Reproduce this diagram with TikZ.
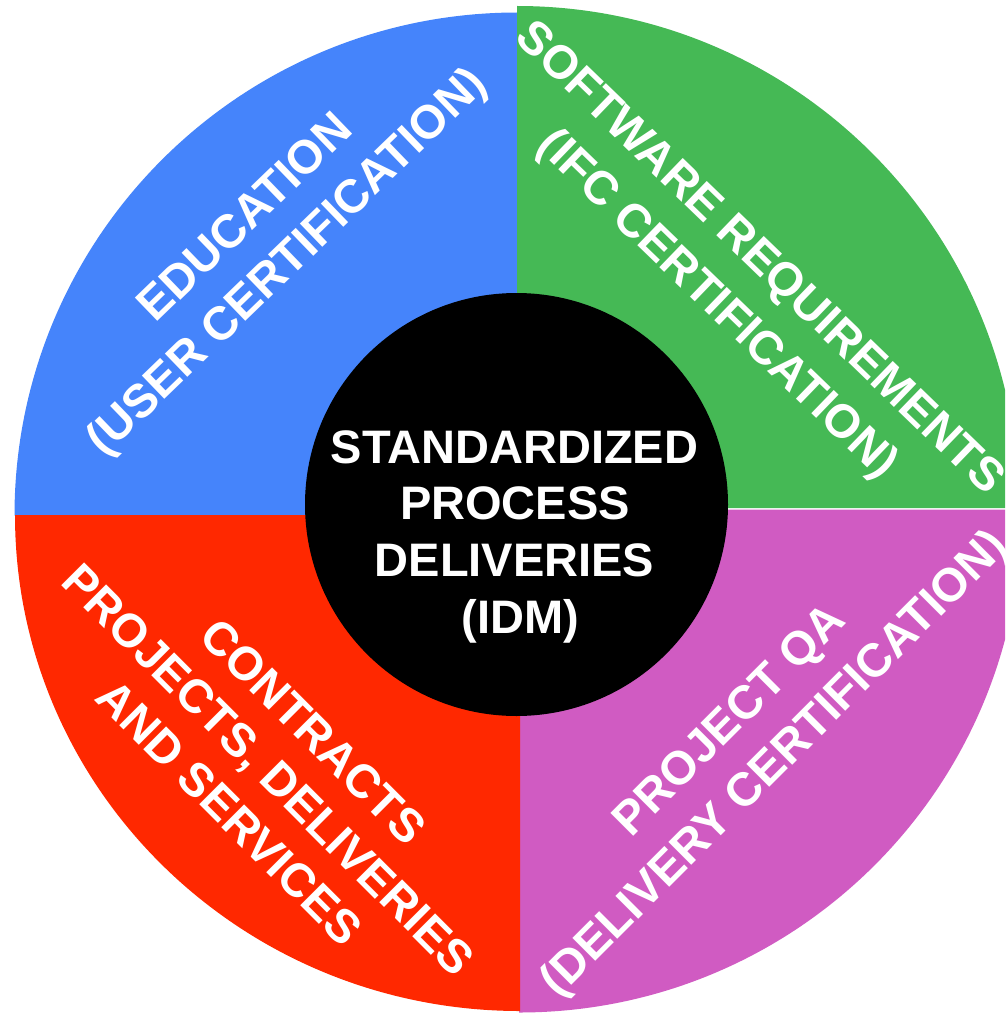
\documentclass[tikz,border=0pt]{standalone}
\usepackage{fontspec}
\setmainfont{Liberation Sans}
\definecolor{qblue}{RGB}{69,132,251}
\definecolor{qgreen}{RGB}{69,185,85}
\definecolor{qred}{RGB}{255,40,0}
\definecolor{qpurple}{RGB}{208,91,194}
\begin{document}
\begin{tikzpicture}[x=1pt,y=1pt,
  lbl/.style={text=white,font=\fontsize{47}{56}\selectfont\bfseries,inner sep=0pt,text height=33.7pt,text depth=0pt},
  hubstyle/.style={circle,fill=black,minimum size=423pt,inner sep=0pt}]
\useasboundingbox (0,0) rectangle (1005,-1014);
\clip (0,0) rectangle (1005,-1014);
% quadrants
\fill[qblue] (517.5,-515.5) -- (14.5,-515.5) arc[start angle=180,end angle=90,radius=503pt] -- cycle;
\fill[qgreen] (517,-508) -- (517,-6) arc[start angle=90,end angle=0,radius=502pt] -- cycle;
\fill[qpurple] (519,-509.5) -- (1022,-509.5) arc[start angle=0,end angle=-90,radius=503pt] -- cycle;
\fill[qred] (520,-515) -- (520,-1011) arc[start angle=-90,end angle=-180,x radius=505pt,y radius=496pt] -- cycle;
% hub
\node[hubstyle] (hub) at (516.5,-504.5) {};
\node[lbl] (c1) at (514.5,-447) {STANDARDIZED};
\node[lbl] (c2) at (515,-503) {PROCESS};
\node[lbl] (c3) at (514.5,-560) {DELIVERIES};
\node[lbl] (c4) at (520.5,-617) {(IDM)};
% blue
\node[lbl,rotate=44] (b1) at (243.5,-216) {EDUCATION};
\node[lbl,rotate=44] (b2) at (285,-260) {(USER CERTIFICATION)};
% green
\node[lbl,rotate=-44] (g1) at (762,-256) {SOFTWARE REQUIREMENTS};
\node[lbl,rotate=-44] (g2) at (720,-302) {(IFC CERTIFICATION)};
% red
\node[lbl,rotate=-45] (r1) at (314,-731) {CONTRACTS};
\node[lbl,rotate=-45] (r2) at (269,-769) {PROJECTS, DELIVERIES};
\node[lbl,rotate=-45] (r3) at (230,-812) {AND SERVICES};
% purple
\node[lbl,rotate=45] (p1) at (727.5,-719) {PROJECT QA};
\node[lbl,rotate=45] (p2) at (772,-761.5) {(DELIVERY CERTIFICATION)};
\end{tikzpicture}
\end{document}
